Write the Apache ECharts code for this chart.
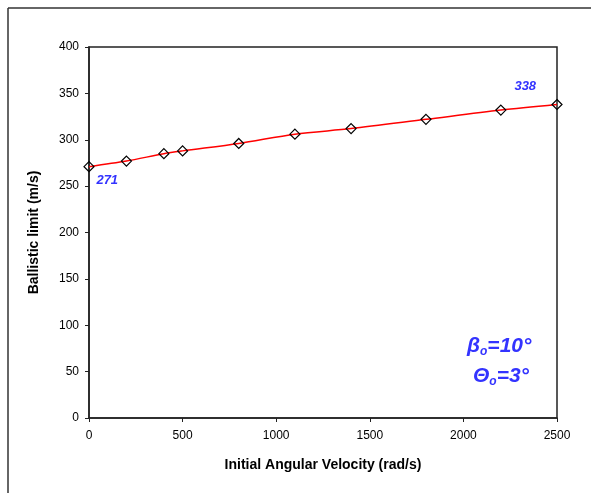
<!DOCTYPE html>
<html>
<head>
<meta charset="utf-8">
<script src="https://cdn.jsdelivr.net/npm/echarts@6/dist/echarts.min.js"></script>
<style>
  html, body { margin: 0; padding: 0; background: #fff; }
  #chart { width: 591px; height: 493px; }
</style>
</head>
<body>
<div id="chart"></div>
<script>
// angular velocity (rad/s) vs ballistic limit (m/s)
var velocity = [0, 200, 400, 500, 800, 1100, 1400, 1800, 2200, 2500];
var ballistic = [271, 277, 285, 288, 296, 306, 312, 322, 332, 338];
var xTicks = [0, 500, 1000, 1500, 2000, 2500];
var yTicks = [0, 50, 100, 150, 200, 250, 300, 350, 400];

var blue = '#3333ff';
var lastIdx = velocity.length - 1;

var points = velocity.map(function (v, i) {
    var item = { value: [v, ballistic[i]] };
    if (i === 0) {
        item.label = { show: true, position: [13, 13] };
    } else if (i === lastIdx) {
        item.label = { show: true, position: [-37, -19] };
    }
    return item;
});

var chart = echarts.init(document.getElementById('chart'));
var option = {
    backgroundColor: '#fff',
    animation: false,
    grid: {
        left: 89, right: 34, top: 47, bottom: 75,
        show: true, borderColor: '#222', borderWidth: 1.5, backgroundColor: '#fff'
    },
    xAxis: {
        type: 'value',
        min: xTicks[0], max: xTicks[xTicks.length - 1], interval: 500,
        name: 'Initial Angular Velocity (rad/s)',
        nameLocation: 'middle', nameGap: 40,
        nameTextStyle: { fontFamily: 'Liberation Sans', fontWeight: 'bold', fontSize: 14, color: '#000' },
        axisLine: { lineStyle: { color: '#222', width: 1.5 } },
        axisTick: { show: true, inside: false, length: 4, lineStyle: { color: '#222' } },
        axisLabel: { fontFamily: 'Liberation Sans', fontSize: 12, color: '#000', margin: 12,
            formatter: function (v) { return String(v); } },
        splitLine: { show: false }
    },
    yAxis: {
        type: 'value',
        min: yTicks[0], max: yTicks[yTicks.length - 1], interval: 50,
        name: 'Ballistic limit (m/s)',
        nameLocation: 'middle', nameGap: 48,
        nameTextStyle: { fontFamily: 'Liberation Sans', fontWeight: 'bold', fontSize: 14, color: '#000' },
        axisLine: { show: true, lineStyle: { color: '#222', width: 1.5 } },
        axisTick: { show: true, inside: false, length: 4, lineStyle: { color: '#222' } },
        axisLabel: { fontFamily: 'Liberation Sans', fontSize: 12, color: '#000', margin: 10 },
        splitLine: { show: false }
    },
    series: [{
        type: 'line',
        data: points,
        smooth: 0.3,
        lineStyle: { color: '#ff0000', width: 1.5 },
        symbol: 'diamond',
        symbolSize: 10,
        itemStyle: { color: 'rgba(0,0,0,0)', borderColor: '#000', borderWidth: 1.2 },
        label: {
            show: false,
            formatter: function (p) { return p.value[1]; },
            fontFamily: 'Liberation Sans', fontSize: 13, fontWeight: 'bold', fontStyle: 'italic', color: blue
        }
    }],
    graphic: [
        { type: 'line', shape: { x1: 8, y1: 8, x2: 591, y2: 8 }, style: { stroke: '#333', lineWidth: 1.5 } },
        { type: 'line', shape: { x1: 8, y1: 8, x2: 8, y2: 493 }, style: { stroke: '#333', lineWidth: 1.5 } },
        {
            type: 'text', left: 467, top: 336,
            style: {
                text: '{m|β}{s|o}{m|=10°}',
                rich: {
                    m: { fontFamily: 'Liberation Sans', fontSize: 21, fontWeight: 'bold', fontStyle: 'italic', fill: blue },
                    s: { fontFamily: 'Liberation Sans', fontSize: 12, fontWeight: 'bold', fontStyle: 'italic', fill: blue, padding: [10, 0, 0, 0] }
                }
            }
        },
        {
            type: 'text', left: 473, top: 366,
            style: {
                text: '{m|Θ}{s|o}{m|=3°}',
                rich: {
                    m: { fontFamily: 'Liberation Sans', fontSize: 21, fontWeight: 'bold', fontStyle: 'italic', fill: blue },
                    s: { fontFamily: 'Liberation Sans', fontSize: 12, fontWeight: 'bold', fontStyle: 'italic', fill: blue, padding: [10, 0, 0, 0] }
                }
            }
        }
    ]
};
chart.setOption(option);
</script>
</body>
</html>
